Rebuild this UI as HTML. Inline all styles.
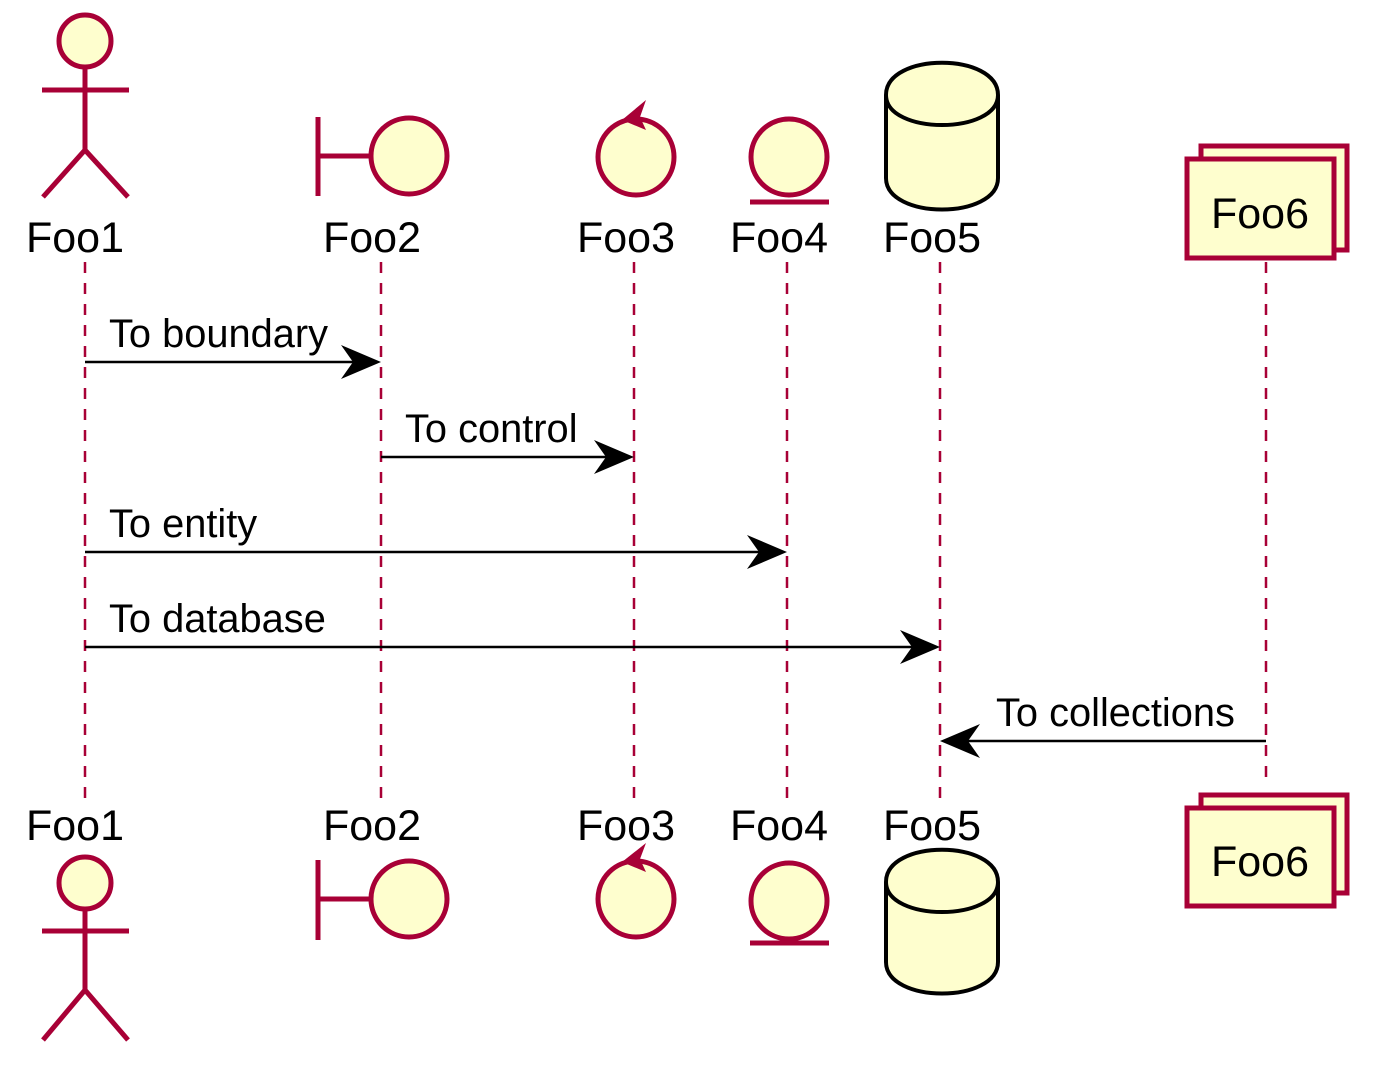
<!DOCTYPE html>
<html><head><meta charset="utf-8"><style>html,body{margin:0;padding:0;background:#fff}svg{display:block}</style></head>
<body>
<svg width="1378" height="1071" viewBox="0 0 1378 1071" xmlns="http://www.w3.org/2000/svg" font-family="Liberation Sans, Arial, sans-serif">
<defs>
<g id="ar"><polygon points="0,0 -40,-17 -28,0 -40,17" fill="#000"/></g>
</defs>
<g stroke="#A80036" stroke-width="2.5" stroke-dasharray="11,10">
<line x1="85" y1="262" x2="85" y2="800"/>
<line x1="381" y1="262" x2="381" y2="800"/>
<line x1="634" y1="262" x2="634" y2="800"/>
<line x1="787" y1="262" x2="787" y2="800"/>
<line x1="940" y1="262" x2="940" y2="800"/>
<line x1="1266" y1="262" x2="1266" y2="780"/>
</g>
<g font-size="43" fill="#000">
<text x="26" y="252">Foo1</text><text x="323" y="252">Foo2</text><text x="577" y="252">Foo3</text><text x="730" y="252">Foo4</text><text x="883" y="252">Foo5</text>
<text x="26" y="840">Foo1</text><text x="323" y="840">Foo2</text><text x="577" y="840">Foo3</text><text x="730" y="840">Foo4</text><text x="883" y="840">Foo5</text>
</g>
<g stroke="#A80036" stroke-width="5" fill="#FEFECE">
<ellipse cx="85" cy="41" rx="26" ry="26"/>
<path d="M85,67 V150 M42,90 H129 M43,197 L85,150 L128,197" fill="none"/>
<path d="M318,117 V196 M318,156 H371" fill="none"/>
<circle cx="409" cy="156" r="38"/>
<circle cx="636" cy="157" r="38"/>
<circle cx="789" cy="157" r="38"/>
<line x1="750" y1="202" x2="829" y2="202"/>
<rect x="1201" y="146" width="146" height="104"/>
<rect x="1187" y="159" width="147" height="99"/>
<ellipse cx="85" cy="883" rx="26" ry="26"/>
<path d="M85,909 V990 M42,931 H129 M43,1040 L85,990 L128,1040" fill="none"/>
<path d="M318,860 V940 M318,899 H371" fill="none"/>
<circle cx="409" cy="899" r="38"/>
<circle cx="636" cy="899" r="38"/>
<circle cx="789" cy="901" r="38"/>
<line x1="750" y1="943" x2="829" y2="943"/>
<rect x="1201" y="795" width="146" height="98"/>
<rect x="1187" y="808" width="147" height="98"/>
</g>
<polygon points="646,100 622,120 646,130 640,117" fill="#A80036"/>
<polygon points="646,843 622,862 646,872 640,859" fill="#A80036"/>
<g stroke="#000" stroke-width="4" fill="#FEFECE">
<path d="M886,95 C886,52 998,52 998,95 L998,178 C998,220 886,220 886,178 Z"/>
<path d="M886,95 C886,135 998,135 998,95" fill="none"/>
<path d="M886,882 C886,839 998,839 998,882 L998,962 C998,1004 886,1004 886,962 Z"/>
<path d="M886,882 C886,922 998,922 998,882" fill="none"/>
</g>
<g font-size="43" fill="#000" text-anchor="middle"><text x="1260" y="228">Foo6</text><text x="1260" y="876">Foo6</text></g>
<g stroke="#000" stroke-width="2.5">
<line x1="85" y1="362" x2="370" y2="362"/>
<line x1="381" y1="457" x2="623" y2="457"/>
<line x1="85" y1="552" x2="776" y2="552"/>
<line x1="85" y1="647" x2="929" y2="647"/>
<line x1="951" y1="741" x2="1266" y2="741"/>
</g>
<use href="#ar" transform="translate(381,362)"/>
<use href="#ar" transform="translate(634,457)"/>
<use href="#ar" transform="translate(787,552)"/>
<use href="#ar" transform="translate(940,647)"/>
<use href="#ar" transform="translate(940,741) scale(-1,1)"/>
<g font-size="39.8" fill="#000">
<text x="109" y="347">To boundary</text>
<text x="405" y="442">To control</text>
<text x="109" y="537">To entity</text>
<text x="109" y="632">To database</text>
<text x="996" y="726">To collections</text>
</g>
</svg>
</body></html>
